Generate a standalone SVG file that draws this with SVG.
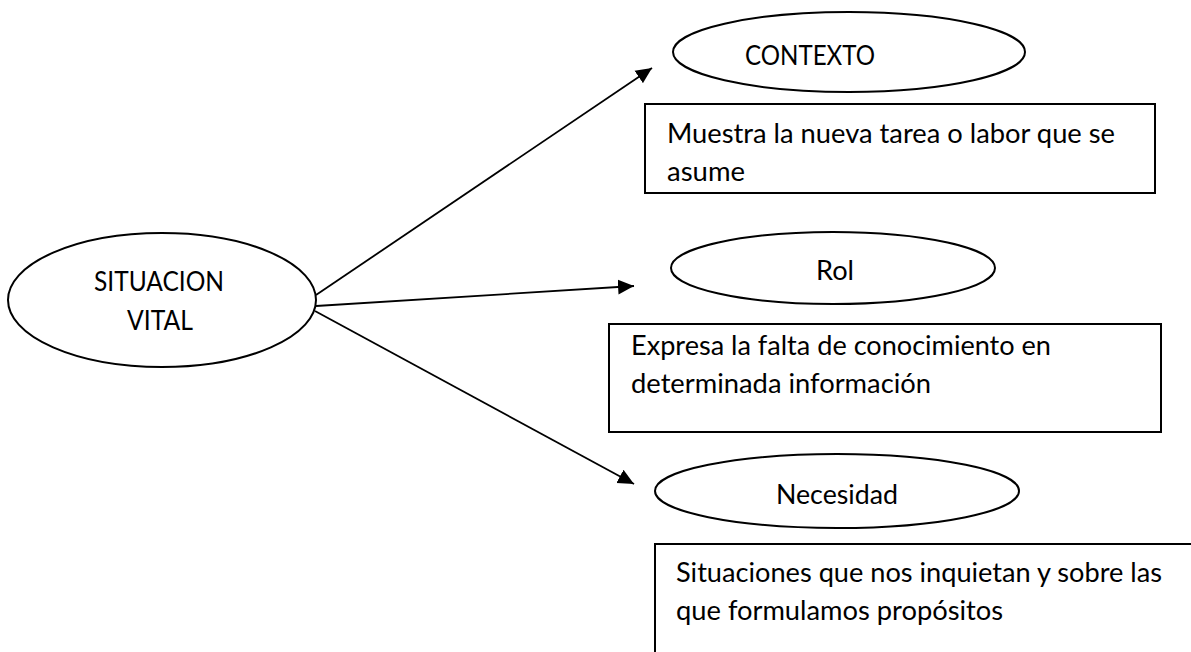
<svg xmlns="http://www.w3.org/2000/svg" width="1191" height="652" viewBox="0 0 1191 652">
<defs>
<style>
.shape{fill:#fff;stroke:#000;stroke-width:2}
.edge{fill:none;stroke:#000;stroke-width:1.8}
.frame{fill:none;stroke:#000;stroke-width:2}
text{font-family:Lato,"Open Sans","Liberation Sans",sans-serif;font-size:26px;font-weight:400;fill:#000}
.c{text-anchor:middle}
</style>
<marker id="ah" markerUnits="userSpaceOnUse" markerWidth="17" markerHeight="16" viewBox="0 0 17 16" refX="16" refY="8" orient="auto">
<path d="M0,0.5 L16,8 L0,15.5 Z" fill="#000"/>
</marker>
</defs>
<rect width="1191" height="652" fill="#fff"/>
<g id="connectors">
<line class="edge" x1="316" y1="295" x2="652" y2="68" marker-end="url(#ah)"/>
<line class="edge" x1="316" y1="306" x2="634" y2="286" marker-end="url(#ah)"/>
<line class="edge" x1="315" y1="311" x2="634" y2="484" marker-end="url(#ah)"/>
</g>
<g id="situacion">
<ellipse class="shape" cx="162" cy="300" rx="154" ry="67"/>
<text class="c" x="159" y="291" textLength="130" lengthAdjust="spacingAndGlyphs">SITUACION</text>
<text class="c" x="160" y="330" textLength="66" lengthAdjust="spacingAndGlyphs">VITAL</text>
</g>
<g id="contexto">
<ellipse class="shape" cx="849" cy="52" rx="176" ry="40"/>
<text class="c" x="810" y="65" textLength="130" lengthAdjust="spacingAndGlyphs">CONTEXTO</text>
</g>
<g id="contexto-desc">
<rect class="shape" x="645" y="104" width="510" height="89"/>
<text x="667" y="143" textLength="448" lengthAdjust="spacingAndGlyphs">Muestra la nueva tarea o labor que se</text>
<text x="667" y="181" textLength="78" lengthAdjust="spacingAndGlyphs">asume</text>
</g>
<g id="rol">
<ellipse class="shape" cx="833" cy="268" rx="162" ry="36"/>
<text class="c" x="835" y="280" textLength="38" lengthAdjust="spacingAndGlyphs">Rol</text>
</g>
<g id="rol-desc">
<rect class="shape" x="609" y="324" width="552" height="108"/>
<text x="631" y="355" textLength="420" lengthAdjust="spacingAndGlyphs">Expresa la falta de conocimiento en</text>
<text x="631" y="393" textLength="300" lengthAdjust="spacingAndGlyphs">determinada información</text>
</g>
<g id="necesidad">
<ellipse class="shape" cx="837" cy="491" rx="182" ry="37"/>
<text class="c" x="837" y="504" textLength="122" lengthAdjust="spacingAndGlyphs">Necesidad</text>
</g>
<g id="necesidad-desc">
<path class="frame" d="M655,652 V544 H1191"/>
<text x="676" y="582" textLength="486" lengthAdjust="spacingAndGlyphs">Situaciones que nos inquietan y sobre las</text>
<text x="676" y="620" textLength="327" lengthAdjust="spacingAndGlyphs">que formulamos propósitos</text>
</g>
</svg>
